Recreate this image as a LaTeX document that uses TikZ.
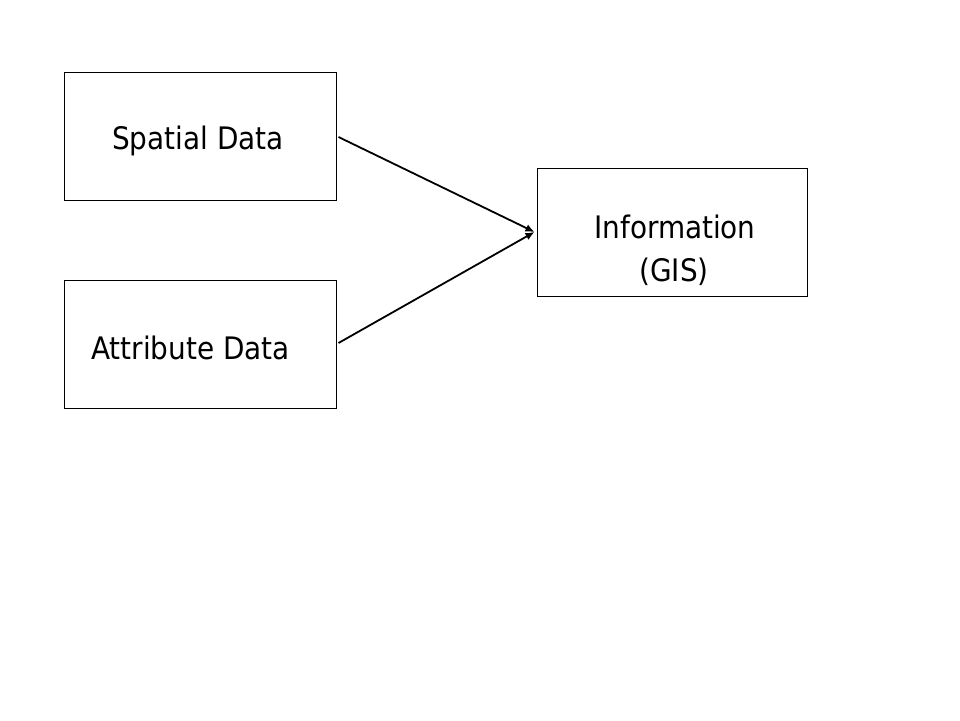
\documentclass[tikz,border=0pt]{standalone}
\usepackage{fontspec}
\setmainfont{DejaVu Sans Condensed}
\usetikzlibrary{arrows.meta}
\begin{document}
\begin{tikzpicture}[x=1pt,y=-1pt,
  box/.style={draw=black,line width=1pt,minimum width=272pt,minimum height=128pt,inner sep=0pt},
  lbl/.style={anchor=base,font=\fontsize{31}{36}\selectfont,inner sep=0pt},
  conn/.style={line width=1.8pt,-{Latex[length=9pt,width=8pt]}}]
\useasboundingbox[fill=white] (0,0) rectangle (960,720);
\node[box] (sp) at (200,136) {};
\node[box] (at) at (200,344) {};
\node[box,minimum width=270pt] (inf) at (672,232) {};
\node[lbl] (tsp) at (198,149) {Spatial Data};
\node[lbl] (tat) at (190.5,359) {Attribute Data};
\node[lbl] (ti1) at (675,238) {Information};
\node[lbl] (ti2) at (674,281) {(GIS)};
\coordinate (tip) at ([xshift=-2pt]inf.west);
\draw[conn] ([xshift=2pt,yshift=-1pt]sp.east) -- (tip);
\draw[conn] ([xshift=2pt,yshift=1pt]at.east) -- (tip);
\end{tikzpicture}
\end{document}
